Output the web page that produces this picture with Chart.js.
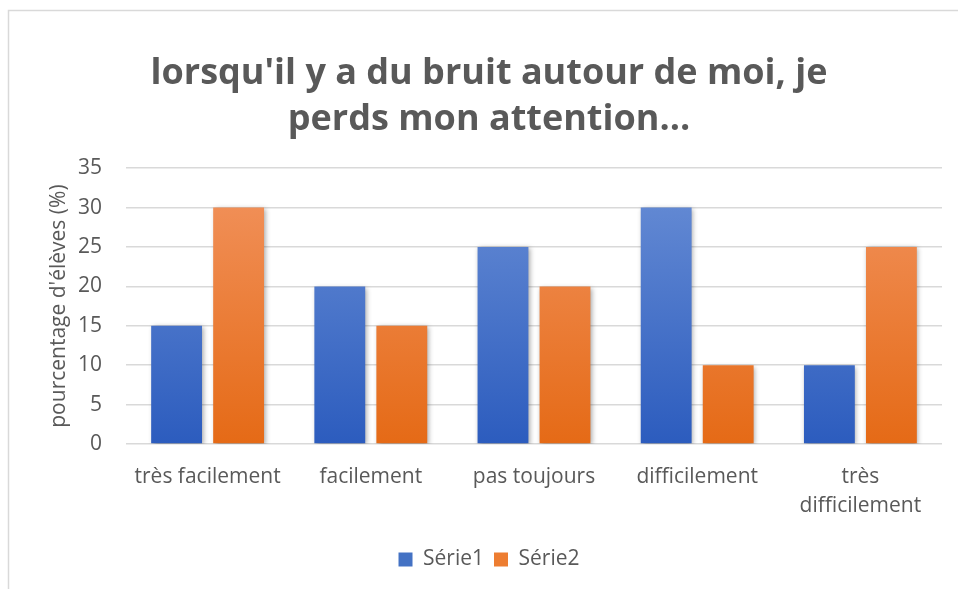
<!DOCTYPE html>
<html>
<head>
<meta charset="utf-8">
<script src="https://cdn.jsdelivr.net/npm/chart.js@4"></script>
<style>
html,body{margin:0;padding:0;background:#fff;}
#wrap{width:958px;height:589px;position:relative;}
</style>
</head>
<body>
<div id="wrap"><canvas id="c" width="958" height="589"></canvas></div>
<script>
const categories = ['très facilement', 'facilement', 'pas toujours', 'difficilement', ['très', 'difficilement']];
const serie1 = [15, 20, 25, 30, 10];
const serie2 = [30, 15, 20, 10, 25];
const seriesNames = ['Série1', 'Série2'];
const titleLines = ["lorsqu'il y a du bruit autour de moi, je", 'perds mon attention...'];
const yTitle = "pourcentage d'élèves (%)";

const FONT = "'Open Sans', 'DejaVu Sans', sans-serif";
const TEXT = '#595959';

function grad(ctx, top, bottom) {
  const chart = ctx.chart;
  const a = chart.chartArea;
  if (!a) return bottom;
  const g = chart.ctx.createLinearGradient(0, a.top, 0, a.bottom);
  g.addColorStop(0, top);
  g.addColorStop(1, bottom);
  return g;
}

const frame = {
  id: 'frame',
  beforeDraw(chart) {
    const c = chart.ctx;
    c.save();
    c.fillStyle = '#fff';
    c.fillRect(0, 0, chart.width, chart.height);
    c.strokeStyle = '#d9d9d9';
    c.lineWidth = 1.5;
    c.beginPath();
    c.moveTo(8.5, 600);
    c.lineTo(8.5, 10.5);
    c.lineTo(970, 10.5);
    c.stroke();
    c.restore();
  },
  beforeDatasetsDraw(chart) {
    const c = chart.ctx;
    c.save();
    c.shadowColor = 'rgba(0,0,0,0.35)';
    c.shadowBlur = 5;
    c.shadowOffsetX = 1.5;
    c.shadowOffsetY = 1.5;
  },
  afterDatasetsDraw(chart) {
    chart.ctx.restore();
  }
};

new Chart(document.getElementById('c'), {
  type: 'bar',
  data: {
    labels: categories,
    datasets: [
      {
        label: seriesNames[0],
        data: serie1,
        backgroundColor: (ctx) => grad(ctx, '#6a8fd6', '#2c5cbe'),
        borderWidth: 0,
        categoryPercentage: 0.76,
        barPercentage: 0.82
      },
      {
        label: seriesNames[1],
        data: serie2,
        backgroundColor: (ctx) => grad(ctx, '#f29460', '#e56a16'),
        borderWidth: 0,
        categoryPercentage: 0.76,
        barPercentage: 0.82
      }
    ]
  },
  plugins: [frame],
  options: {
    responsive: false,
    animation: false,
    devicePixelRatio: 1,
    layout: { padding: { left: 36, right: 16, top: 0, bottom: 9 } },
    plugins: {
      title: {
        display: true,
        text: titleLines,
        color: TEXT,
        font: { family: FONT, size: 36, weight: 'bold', lineHeight: 1.28 },
        padding: { top: 51, bottom: 25 }
      },
      legend: {
        position: 'bottom',
        labels: {
          color: TEXT,
          font: { family: FONT, size: 21 },
          boxWidth: 14,
          boxHeight: 14,
          padding: 10,
          generateLabels(chart) {
            const cols = ['#4472c4', '#ed7d31'];
            return chart.data.datasets.map((d, i) => ({
              text: d.label, fillStyle: cols[i], strokeStyle: cols[i], lineWidth: 0,
              fontColor: TEXT, datasetIndex: i, hidden: false
            }));
          }
        }
      },
      tooltip: { enabled: false }
    },
    scales: {
      x: {
        grid: { display: false, drawTicks: false },
        border: { display: false },
        ticks: { color: TEXT, font: { family: FONT, size: 21, lineHeight: 1.4 }, padding: 18, maxRotation: 0, autoSkip: false },
        afterFit(s) { s.height = 95; }
      },
      y: {
        min: 0, max: 35,
        grid: { color: '#d9d9d9', lineWidth: 1.5, drawTicks: false },
        border: { display: false },
        ticks: { stepSize: 5, color: TEXT, font: { family: FONT, size: 21 }, padding: 24 },
        title: { display: true, text: yTitle, color: TEXT, font: { family: FONT, size: 21 }, padding: { top: 10, bottom: 0 } },
        afterFit(s) { s.width = 90; }
      }
    }
  }
});
</script>
</body>
</html>
